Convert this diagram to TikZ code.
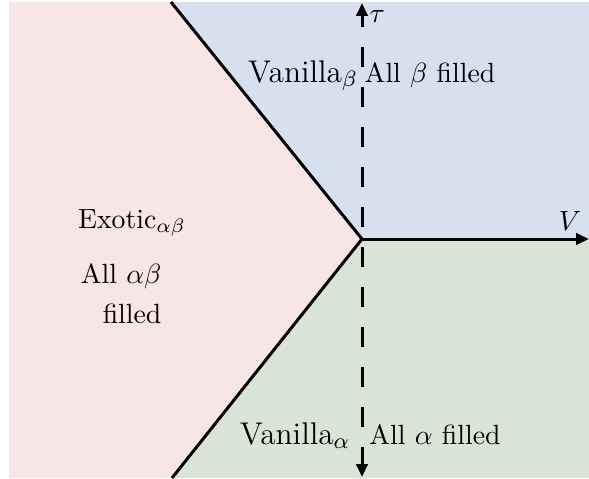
\documentclass[tikz,border=0pt]{standalone}
\usetikzlibrary{arrows.meta}
\definecolor{pinkr}{RGB}{248,229,229}
\definecolor{bluer}{RGB}{214,224,238}
\definecolor{greenr}{RGB}{217,228,214}
\tikzset{
  bound/.style={line width=1.08pt},
  axis/.style={line width=1.08pt,-{Triangle[length=4.6pt,width=4pt]}},
  lbl/.style={inner sep=0pt,anchor=base},
  big/.style={font=\fontsize{11.3pt}{13pt}\selectfont},
}
\begin{document}
\begin{tikzpicture}[x=0.36pt,y=-0.36pt]
\useasboundingbox (0,0) rectangle (589,478);
\coordinate (O) at (362,239);
\coordinate (TL) at (171,2);
\coordinate (BL) at (172,478);
\coordinate (Vend) at (589,239);
\coordinate (Ttop) at (362,3);
\coordinate (Tbot) at (362,477);
% regions
\fill[pinkr] (9,2) -- (TL) -- (O) -- (BL) -- (9,478) -- cycle;
\fill[bluer] (TL) -- (589,2) -- (Vend) -- (O) -- cycle;
\fill[greenr] (O) -- (Vend) -- (589,478) -- (BL) -- cycle;
% boundaries
\draw[bound] (TL) -- (O) -- (BL);
\draw[axis] (O) -- (Vend);
\draw[line width=1.08pt,dash pattern=on 7.2pt off 7.2pt,dash phase=2.9pt,
  {Triangle[length=4.6pt,width=4pt]}-{Triangle[length=4.6pt,width=4pt]}] (Ttop) -- (Tbot);
% labels
\node[lbl,big] (vb) at (303,82) {Vanilla$_\beta$};
\node[lbl] (ab) at (430,82) {All $\beta$ filled};
\node[lbl,big] (va) at (295,444) {Vanilla$_\alpha$};
\node[lbl] (aa) at (435,444) {All $\alpha$ filled};
\node[lbl] (ex) at (132,228) {Exotic$_{\alpha\beta}$};
\node[lbl,anchor=base east] (aab) at (162,283) {All $\alpha\beta$};
\node[lbl,anchor=base east] (fil) at (162,323) {filled};
\node[lbl,anchor=base west] (tau) at (369,22) {$\tau$};
\node[lbl] (vv) at (570,230) {$V$};
\end{tikzpicture}
\end{document}
